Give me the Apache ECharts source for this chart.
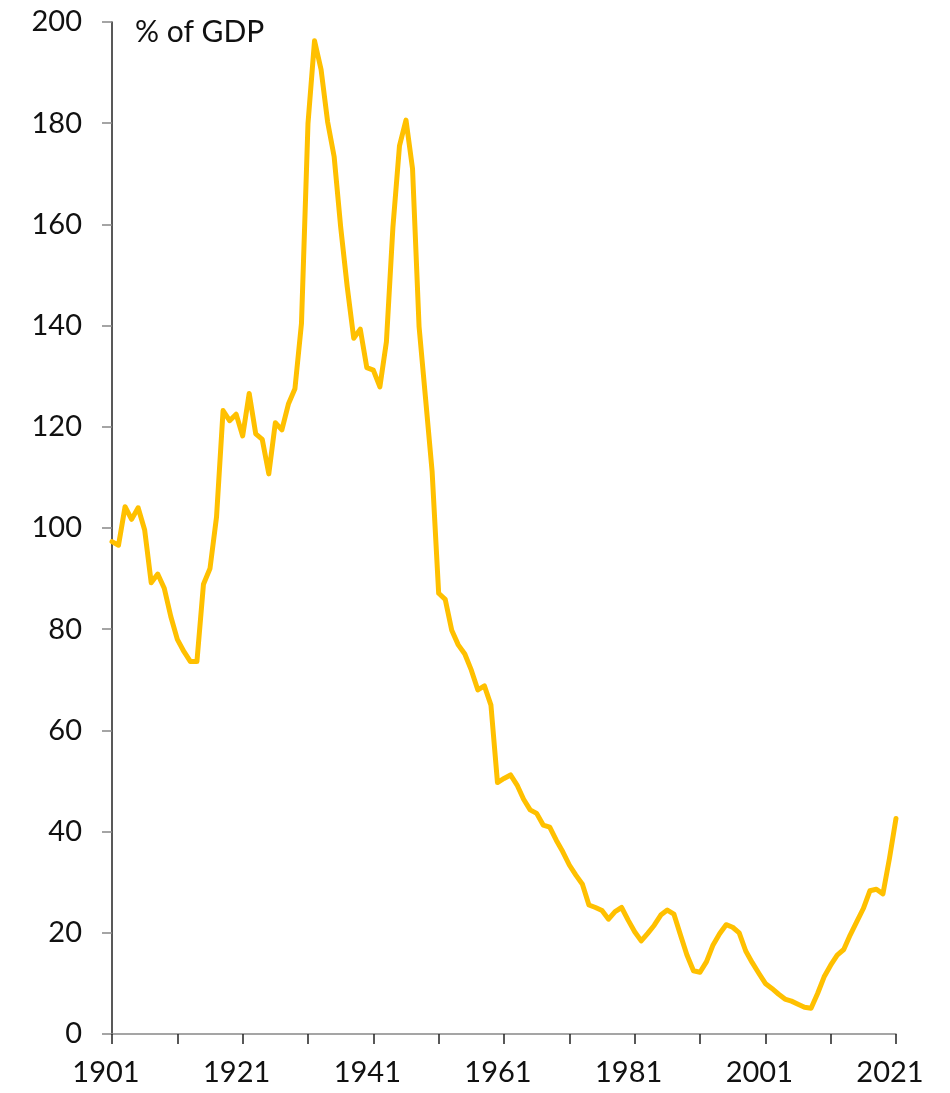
<!DOCTYPE html>
<html>
<head>
<meta charset="utf-8">
<title>Government debt, % of GDP</title>
<script src="https://cdn.jsdelivr.net/npm/echarts@6/dist/echarts.min.js"></script>
<style>
  html, body { margin: 0; padding: 0; background: #ffffff; }
  #chart { width: 950px; height: 1093px; }
</style>
</head>
<body>
<div id="chart"></div>
<script>
// Years 1901..2021, one value per year
const firstYear = 1901;
const lastYear = 2021;
const years = [];
for (let y = firstYear; y <= lastYear; y++) years.push(String(y));

// Debt as % of GDP, 1901-1950
const debt1901_1950 = [
  97.3, 96.6, 104.2, 101.7, 104.0, 99.6, 89.2, 90.9, 88.1, 82.5,
  78.0, 75.6, 73.6, 73.6, 88.9, 92.0, 102.2, 123.2, 121.2, 122.5,
  118.2, 126.6, 118.6, 117.5, 110.7, 120.8, 119.4, 124.5, 127.5, 140.4,
  180.0, 196.3, 190.6, 180.3, 173.4, 159.5, 147.7, 137.5, 139.3, 131.7,
  131.2, 127.9, 136.8, 159.5, 175.5, 180.6, 171.0, 139.8, 125.5, 111.1
];
// Debt as % of GDP, 1951-2000
const debt1951_2000 = [
  87.1, 85.9, 79.8, 76.9, 75.1, 71.9, 68.0, 68.8, 65.0, 49.7,
  50.5, 51.2, 49.2, 46.4, 44.3, 43.6, 41.3, 40.9, 38.3, 36.0,
  33.4, 31.4, 29.6, 25.5, 25.0, 24.4, 22.7, 24.2, 25.0, 22.5,
  20.2, 18.4, 19.9, 21.5, 23.5, 24.5, 23.7, 19.6, 15.6, 12.5,
  12.2, 14.3, 17.6, 19.8, 21.6, 21.1, 20.0, 16.4, 14.1, 12.0
];
// Debt as % of GDP, 2001-2021
const debt2001_2021 = [
  10.0, 9.0, 7.9, 6.9, 6.5, 5.9, 5.3, 5.1, 8.0, 11.3,
  13.6, 15.6, 16.7, 19.6, 22.2, 24.8, 28.3, 28.6, 27.7, 34.7,
  42.6
];
const debt = debt1901_1950.concat(debt1951_2000, debt2001_2021);

// Value axis ticks
const yMin = 0;
const yMax = 200;
const yStep = 20;

const unitLabel = '% of GDP';

const FONT = 'Lato, "Open Sans", sans-serif';

const chart = echarts.init(document.getElementById('chart'), null, { renderer: 'canvas' });

chart.setOption({
  backgroundColor: '#ffffff',
  animation: false,
  grid: { left: 112, right: 54, top: 22, bottom: 59, containLabel: false },
  graphic: [{
    type: 'text',
    left: 135,
    top: 17,
    style: { text: unitLabel, fill: '#111', font: '30px ' + FONT }
  }],
  xAxis: {
    type: 'category',
    data: years,
    boundaryGap: false,
    axisLine: { show: true, lineStyle: { color: '#888888', width: 1.5 } },
    axisTick: { show: true, interval: 9, length: 10, lineStyle: { color: '#222222', width: 1.5 } },
    axisLabel: {
      interval: 19,
      margin: 24,
      color: '#111',
      fontSize: 29,
      fontFamily: FONT,
      padding: [0, 12, 0, 0]
    },
    splitLine: { show: false }
  },
  yAxis: {
    type: 'value',
    min: yMin,
    max: yMax,
    interval: yStep,
    axisLine: { show: true, lineStyle: { color: '#222222', width: 1.5 } },
    axisTick: { show: true, length: 10, lineStyle: { color: '#888888', width: 1.5 } },
    axisLabel: {
      margin: 30,
      color: '#111',
      fontSize: 29,
      fontFamily: FONT
    },
    splitLine: { show: false }
  },
  series: [{
    type: 'line',
    data: debt,
    showSymbol: false,
    symbol: 'none',
    lineStyle: { color: '#FFC000', width: 5, join: 'round', cap: 'round' },
    itemStyle: { color: '#FFC000' }
  }]
});
</script>
</body>
</html>
